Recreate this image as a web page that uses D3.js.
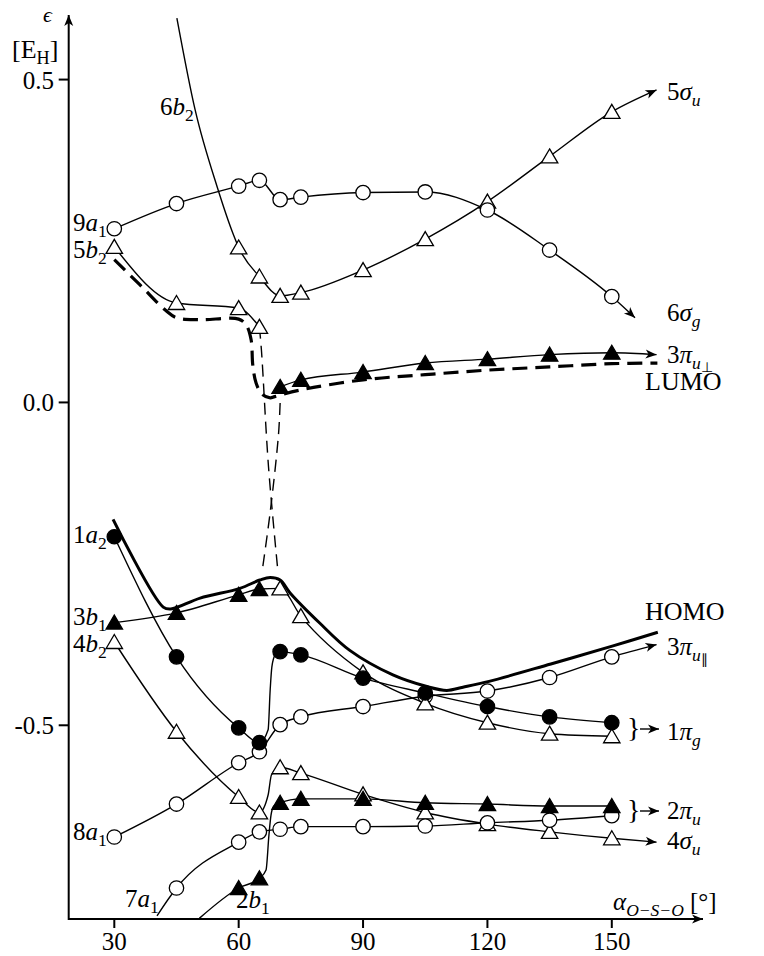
<!DOCTYPE html>
<html><head><meta charset="utf-8">
<script src="https://cdn.jsdelivr.net/npm/d3@7"></script>
<style>
body{margin:0;background:#fff}
text{font-family:"Liberation Serif","Times New Roman",serif;fill:#000}
</style></head><body>
<svg id="chart" width="764" height="956"></svg>
<script>
// bending angles (deg) where the orbital energies were computed
var angles = [30,45,60,65,70,75,90,105,120,135,150]

// orbital energies [E_H]
var e9a1 = [0.269,0.308,0.335,0.344,0.314,0.318,0.325,0.326,0.298,0.236,0.164]   // -> 6sg
var e6b2 = [0.240,0.195,0.165,0.170,0.205,0.253,0.311,0.381,0.450]                // 60..150 -> 5su
var lead6b2 = [[45.1,0.595],[49.5,0.453],[54.8,0.334],[58.6,0.262]]
var e5b2 = [0.241,0.154,0.146,0.117]                                              // 30..65
var e3piPerp = [0.024,0.035,0.047,0.061,0.067,0.074,0.077]                        // 70..150
var e1a2 = [-0.208,-0.394,-0.504,-0.527,-0.386,-0.391,-0.427,-0.450,-0.471,-0.487,-0.496]
var jump1a2 = [[67.1,-0.507],[67.6,-0.445],[68.0,-0.410],[68.8,-0.391]]          // steep rise 65..70
var e3b1 = [-0.341,-0.326,-0.298,-0.289,-0.288,-0.331,-0.418,-0.466,-0.496,-0.513,-0.517]
var e4b2 = [-0.371,-0.510,-0.611,-0.635,-0.565,-0.574,-0.607,-0.635,-0.653,-0.665,-0.675]
var jump4b2 = [[67.1,-0.608],[67.9,-0.577]]
var e8a1 = [-0.673,-0.622,-0.558,-0.541,-0.499,-0.487,-0.471,-0.455,-0.447,-0.426,-0.394]
var e7a1 = [-0.752,-0.681,-0.665,-0.661,-0.657,-0.657,-0.656,-0.651,-0.647,-0.640] // 45..150
var lead7a1 = [[40.3,-0.795]]
var e2b1 = [-0.752,-0.737,-0.620,-0.614,-0.614,-0.620,-0.622,-0.625,-0.625]       // 60..150
var lead2b1 = [[50.5,-0.799]]
var jump2b1 = [[66.6,-0.724],[67.3,-0.670],[67.8,-0.639],[68.5,-0.625]]

// arrow tips of the lines that run out to the D-inf-h labels
var tip6sg = [155.6,0.131], tip5su = [160.8,0.484], tip3piPerp = [160.8,0.074]
var tip3piPar = [160.8,-0.375], tip4su = [160.8,-0.681]

// HOMO / LUMO envelopes
var homo = [[29.7,-0.181],[41.8,-0.317],[43.6,-0.320],[50.7,-0.303],[60.3,-0.288],[65.1,-0.275],
  [67.6,-0.271],[70,-0.275],[72.4,-0.295],[79.6,-0.342],[86.8,-0.384],[97.2,-0.422],[105.4,-0.440],
  [110.2,-0.446],[114.1,-0.441],[120.4,-0.432],[135.3,-0.405],[150.3,-0.377],[161.1,-0.356]]
var lumo = [[30,0.221],[36.2,0.182],[42.3,0.143],[45.1,0.131],[50.7,0.128],[60,0.129],[61.8,0.120],
  [63,0.097],[63.4,0.058],[64.2,0.030],[65.6,0.013],[67.6,0.007],[68.7,0.009],[74.7,0.019],[90,0.035],
  [105,0.043],[120,0.050],[135,0.055],[150,0.060],[161,0.061]]
// avoided crossing (thin dashed)
var crossA = [[65,0.117],[65.5,0.08],[67.2,-0.1],[69.5,-0.264]]
var crossB = [[70,-0.001],[69.6,-0.05],[67.6,-0.17],[65.6,-0.264]]

var xTicks = [30,60,90,120,150]
var yTicks = [0.5,0.0,-0.5]

function pts(xs, ys){
  var out = []
  ys.forEach(function(v,i){ out.push([xs[i],v]) })
  return out
}
function withJump(p, jump){
  // put the curve-only points between 65 and 70 deg
  var out = p.filter(function(d){return d[0]<=65}).concat(jump, p.filter(function(d){return d[0]>65}))
  return out
}

var svg = d3.select("#chart")
var x = d3.scaleLinear().domain([19,172]).range([68.7,703])
var y = d3.scaleLinear().domain([-0.8,0.6]).range([919,15])

var defs = svg.append("defs")
defs.append("marker").attr("id","arr").attr("viewBox","-12 -6 14 12")
  .attr("markerWidth",14).attr("markerHeight",12).attr("refX",0).attr("refY",0)
  .attr("orient","auto").attr("markerUnits","userSpaceOnUse")
  .append("path").attr("d","M0,0 L-11,-4.5 L-8,0 L-11,4.5 Z").attr("fill","#000")

var line = d3.line().x(function(d){return x(d[0])}).y(function(d){return y(d[1])}).curve(d3.curveMonotoneX)
var lineCR = d3.line().x(function(d){return x(d[0])}).y(function(d){return y(d[1])}).curve(d3.curveCatmullRom.alpha(0.5))

var g = svg.append("g")

// axes
g.append("line").attr("x1",x(19)).attr("x2",x(172)).attr("y1",y(-0.8)).attr("y2",y(-0.8))
  .attr("stroke","#000").attr("stroke-width",2).attr("marker-end","url(#arr)")
g.append("line").attr("x1",x(19)).attr("x2",x(19)).attr("y1",y(-0.8)+1).attr("y2",y(0.6))
  .attr("stroke","#000").attr("stroke-width",2).attr("marker-end","url(#arr)")

xTicks.forEach(function(t){
  g.append("line").attr("x1",x(t)).attr("x2",x(t)).attr("y1",y(-0.8)).attr("y2",y(-0.8)+9)
    .attr("stroke","#000").attr("stroke-width",2)
  g.append("text").attr("x",x(t)).attr("y",950).attr("text-anchor","middle")
    .attr("font-size",25).text(t)
})
yTicks.forEach(function(t){
  g.append("line").attr("x1",x(19)-10).attr("x2",x(19)).attr("y1",y(t)).attr("y2",y(t))
    .attr("stroke","#000").attr("stroke-width",2)
  g.append("text").attr("x",54).attr("y",y(t)+9).attr("text-anchor","end")
    .attr("font-size",25).text(t==0 ? "0.0" : (t<0 ? "-" : "") + Math.abs(t).toFixed(1))
})

// curves
function draw(data, opts){
  opts = opts || {}
  var p = g.append("path").attr("d",(opts.gen || line)(data)).attr("fill","none")
    .attr("stroke","#000").attr("stroke-width",opts.w || 1.4)
  if (opts.dash) p.attr("stroke-dasharray",opts.dash)
  if (opts.arrow) p.attr("marker-end","url(#arr)")
}

draw(lumo,{w:3.2,dash:"15,8",gen:lineCR})
draw(homo,{w:3,gen:lineCR})
draw(crossA,{w:1.4,dash:"12,7",gen:lineCR})
draw(crossB,{w:1.4,dash:"12,7",gen:lineCR})

draw(pts(angles,e9a1).concat([tip6sg]),{arrow:1})
draw(lead6b2.concat(pts(angles.slice(2),e6b2),[tip5su]),{arrow:1})
draw(pts(angles,e5b2))
draw(pts(angles.slice(4),e3piPerp).concat([tip3piPerp]),{arrow:1})
draw(withJump(pts(angles,e1a2),jump1a2))
draw(pts(angles,e3b1))
draw(pts(angles,e8a1).concat([tip3piPar]),{arrow:1})
draw(withJump(pts(angles,e4b2),jump4b2).concat([tip4su]),{arrow:1})
draw(lead7a1.concat(pts(angles.slice(1),e7a1)))
draw(withJump(lead2b1.concat(pts(angles.slice(2),e2b1)),jump2b1))

// markers
function circles(data, filled){
  g.selectAll(null).data(data).enter().append("circle")
    .attr("cx",function(d){return x(d[0])}).attr("cy",function(d){return y(d[1])})
    .attr("r",7.2).attr("fill",filled ? "#000" : "#fff").attr("stroke","#000").attr("stroke-width",1.3)
}
function triangles(data, filled){
  g.selectAll(null).data(data).enter().append("path")
    .attr("transform",function(d){return "translate(" + x(d[0]) + "," + y(d[1]) + ")"})
    .attr("d","M0,-7.5 L8.2,6.5 L-8.2,6.5 Z")
    .attr("fill",filled ? "#000" : "#fff").attr("stroke","#000").attr("stroke-width",1.3)
}

triangles(pts(angles.slice(2),e6b2),false)
triangles(pts(angles,e5b2),false)
circles(pts(angles,e9a1),false)
triangles(pts(angles.slice(4),e3piPerp),true)
triangles(pts(angles,e4b2),false)
circles(pts(angles,e8a1),false)
circles(pts(angles.slice(1),e7a1),false)
triangles(pts(angles.slice(2),e2b1),true)
triangles(pts(angles.slice(0,4),e3b1.slice(0,4)),true)
triangles(pts(angles.slice(4),e3b1.slice(4)),false)
circles(pts(angles,e1a2),true)

// labels: parts = [text, style] (i italic, s sub, ss sub-sub)
function label(px, py, parts, size){
  size = size || 25
  var t = g.append("text").attr("x",px).attr("y",py).attr("font-size",size)
  var shift = 0
  parts.forEach(function(p){
    var sp = t.append("tspan").text(p[0])
    var st = p[1] || ""
    var want = 0
    if (st.indexOf("ss")>=0){ sp.attr("font-size",size*0.55); want = size*0.36 }
    else if (st.indexOf("s")>=0){ sp.attr("font-size",size*0.7); want = size*0.22 }
    if (st.indexOf("i")>=0) sp.attr("font-style","italic")
    if (want != shift){ sp.attr("dy",want-shift); shift = want }
  })
}

label(43,22,[["ϵ","i"]],22)
label(12,58,[["[E"],["H","s"],["]"]],26)
label(73,231,[["9"],["a","i"],["1","s"]])
label(73,258,[["5"],["b","i"],["2","s"]])
label(160,115,[["6"],["b","i"],["2","s"]])
label(73,543,[["1"],["a","i"],["2","s"]])
label(73,625,[["3"],["b","i"],["1","s"]])
label(73,652,[["4"],["b","i"],["2","s"]])
label(73,840,[["8"],["a","i"],["1","s"]])
label(125,907,[["7"],["a","i"],["1","s"]])
label(236,908,[["2"],["b","i"],["1","s"]])
label(667,100,[["5"],["σ","i"],["u","si"]])
label(667,321,[["6"],["σ","i"],["g","si"]])
label(667,363,[["3"],["π","i"],["u","si"],["⊥","ss"]])
label(645,390,[["LUMO"]],26)
label(645,620,[["HOMO"]],26)
label(667,655,[["3"],["π","i"],["u","si"],["∥","ss"]])
label(667,740,[["1"],["π","i"],["g","si"]])
label(667,819,[["2"],["π","i"],["u","si"]])
label(667,849,[["4"],["σ","i"],["u","si"]])
label(613,910,[["α","i"],["O−S−O","si"],["  [°]"]])

// braces grouping the degenerate pairs
;[[729,"1"],[811,"2"]].forEach(function(b){
  g.append("text").attr("x",627).attr("y",b[0]+8).attr("font-size",28).text("}")
  g.append("line").attr("x1",640).attr("x2",659).attr("y1",b[0]).attr("y2",b[0])
    .attr("stroke","#000").attr("stroke-width",1.4).attr("marker-end","url(#arr)")
})
</script>
</body></html>
